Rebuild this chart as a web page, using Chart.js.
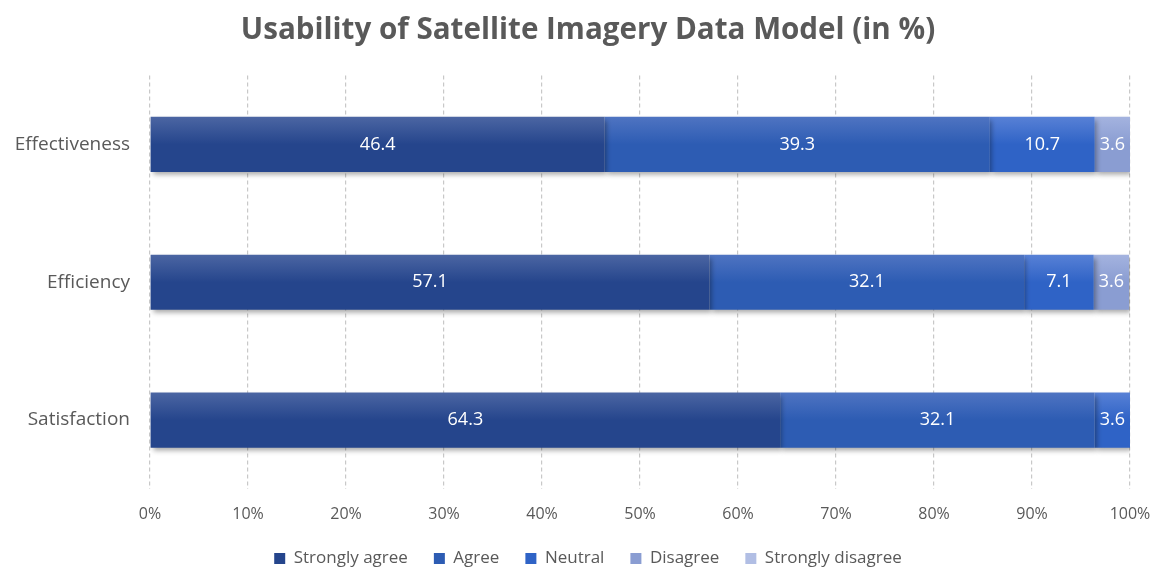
<!DOCTYPE html>
<html>
<head>
<meta charset="utf-8">
<script src="https://cdn.jsdelivr.net/npm/chart.js@4"></script>
<style>
  html, body { margin: 0; padding: 0; background: #fff; }
  #wrap { width: 1157px; height: 572px; }
</style>
</head>
<body>
<div id="wrap"><canvas id="grafico"></canvas></div>
<script>
// ===== DADOS =====
const categorias = ["Effectiveness", "Efficiency", "Satisfaction"];
const series = ["Strongly agree", "Agree", "Neutral", "Disagree", "Strongly disagree"];
const stronglyAgree = [46.4, 57.1, 64.3];
const agree = [39.3, 32.1, 32.1];
const neutral = [10.7, 7.1, 3.6];
const disagree = [3.6, 3.6, 0];
const stronglyDisagree = [0, 0, 0];
const tickLabels = ["0%", "10%", "20%", "30%", "40%", "50%", "60%", "70%", "80%", "90%", "100%"];

// cores: [topo, base] do gradiente de cada série
const cores = [
  ["#4c66a3", "#25458c"],
  ["#4f74c2", "#2d5cb3"],
  ["#5881d6", "#2f63c6"],
  ["#a4b3df", "#8a9dd2"],
  ["#c5cfeb", "#b1bee4"]
];
const valores = [stronglyAgree, agree, neutral, disagree, stronglyDisagree];

const fonte = "'Open Sans', 'Liberation Sans', sans-serif";
const cinza = "#595959";

// gradiente vertical de cada barra, centrado na categoria
function gradiente(context, i) {
  const chart = context.chart;
  const y = chart.scales.y;
  if (!y || !chart.chartArea) return cores[i][1];
  const centro = y.getPixelForValue(context.dataIndex);
  const meia = 28;
  const g = chart.ctx.createLinearGradient(0, centro - meia, 0, centro + meia);
  g.addColorStop(0, cores[i][0]);
  g.addColorStop(0.5, cores[i][1]);
  g.addColorStop(1, cores[i][1]);
  return g;
}

// ===== PLUGIN: SOMBRA DAS BARRAS =====
const sombra = {
  id: "sombra",
  beforeDatasetsDraw(chart) {
    const ctx = chart.ctx;
    ctx.save();
    ctx.shadowColor = "rgba(0,0,0,0.35)";
    ctx.shadowBlur = 5;
    ctx.shadowOffsetX = 2;
    ctx.shadowOffsetY = 3;
  },
  afterDatasetsDraw(chart) {
    chart.ctx.restore();
  }
};

// ===== PLUGIN: RÓTULOS DOS VALORES =====
const rotulos = {
  id: "rotulos",
  afterDatasetsDraw(chart) {
    const ctx = chart.ctx;
    ctx.save();
    ctx.font = "18px " + fonte;
    ctx.fillStyle = "#ffffff";
    ctx.textAlign = "center";
    ctx.textBaseline = "middle";
    chart.data.datasets.forEach((ds, i) => {
      const meta = chart.getDatasetMeta(i);
      meta.data.forEach((bar, j) => {
        const v = ds.data[j];
        if (!v) return;
        const p = bar.getCenterPoint();
        ctx.fillText(v.toFixed(1), p.x, p.y);
      });
    });
    ctx.restore();
  }
};

// ===== PLUGIN: LEGENDA E TÍTULO =====
// altura fixa da legenda e leve deslocamento para a direita (como no original)
const ajusteLayout = {
  id: "ajusteLayout",
  beforeInit(chart) {
    const fitOriginal = chart.legend.fit;
    chart.legend.fit = function () {
      fitOriginal.bind(chart.legend)();
      this.height = 48;
    };
  },
  afterLayout(chart) {
    const d = 17;
    [chart.legend, chart.titleBlock].forEach(b => { if (b) { b.left += d; b.right += d; } });
  }
};

new Chart(document.getElementById("grafico"), {
  type: "bar",
  data: {
    labels: categorias,
    datasets: series.map((nome, i) => ({
      label: nome,
      data: valores[i],
      backgroundColor: ctx => gradiente(ctx, i),
      borderWidth: 0,
      barPercentage: 0.8,
      categoryPercentage: 0.5
    }))
  },
  options: {
    indexAxis: "y",
    responsive: true,
    maintainAspectRatio: false,
    animation: false,
    layout: { padding: { left: 12, right: 27, top: 0, bottom: 0 } },
    scales: {
      x: {
        stacked: true,
        min: 0,
        max: 100,
        border: { display: false, dash: [4, 3] },
        grid: {
          color: "#c8c8c8",
          lineWidth: 1.2,
          drawTicks: false
        },
        afterFit: escala => {
          escala.height = 35;
          escala.paddingRight = 0;
          escala.paddingLeft = 0;
        },
        ticks: {
          stepSize: 10,
          color: cinza,
          font: { family: fonte, size: 16 },
          padding: 16,
          maxRotation: 0,
          callback: (v, idx) => tickLabels[idx]
        }
      },
      y: {
        stacked: true,
        border: { display: false },
        grid: { display: false, drawTicks: false },
        afterFit: escala => { escala.width = 138; },
        ticks: {
          color: cinza,
          font: { family: fonte, size: 19 },
          padding: 20
        }
      }
    },
    plugins: {
      title: {
        display: true,
        text: "Usability of Satellite Imagery Data Model (in %)",
        color: cinza,
        font: { family: fonte, size: 29.6, weight: "bold" },
        padding: { top: 13, bottom: 27 }
      },
      legend: {
        position: "bottom",
        labels: {
          color: cinza,
          font: { family: fonte, size: 17 },
          boxWidth: 11,
          boxHeight: 11,
          padding: 26,
          generateLabels: chart => series.map((nome, i) => ({
            text: nome,
            fillStyle: cores[i][1],
            strokeStyle: cores[i][1],
            lineWidth: 0,
            fontColor: cinza,
            datasetIndex: i
          }))
        }
      },
      tooltip: { enabled: false }
    }
  },
  plugins: [sombra, rotulos, ajusteLayout]
});
</script>
</body>
</html>
